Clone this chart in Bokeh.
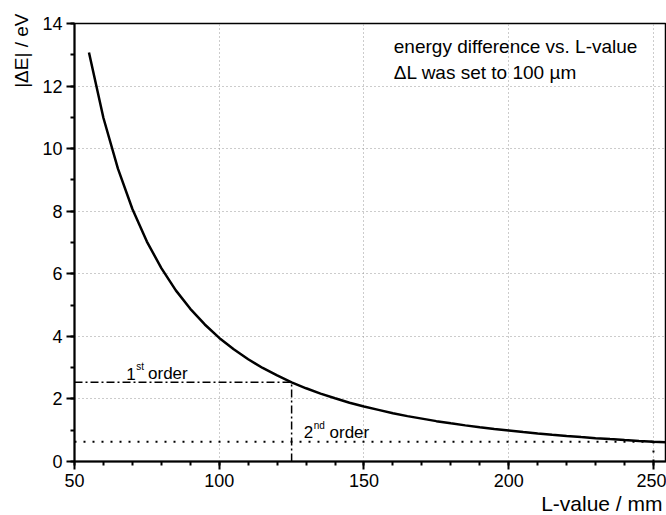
import math
from bokeh.plotting import figure
from bokeh.models import FixedTicker, Label, Title
from bokeh.embed import file_html
from bokeh.resources import INLINE

# ---- data ----
L_values = [55, 60, 65, 70, 75, 80, 85, 90, 95, 100, 105, 110, 115, 120, 125,
            130, 135, 140, 145, 150, 155, 160, 165, 170, 175, 180, 185, 190,
            195, 200, 205, 210, 215, 220, 225, 230, 235, 240, 245, 250, 255]
dE_values = [13.07, 10.98, 9.36, 8.07, 7.03, 6.18, 5.47, 4.88, 4.38, 3.95,
             3.59, 3.27, 2.99, 2.75, 2.53, 2.34, 2.17, 2.02, 1.88, 1.76,
             1.65, 1.54, 1.45, 1.37, 1.29, 1.22, 1.155, 1.095, 1.04, 0.99,
             0.94, 0.897, 0.855, 0.817, 0.781, 0.747, 0.716, 0.686, 0.659,
             0.633, 0.608]

first_order_L = 125
first_order_dE = 2.53
second_order_L = 250
second_order_dE = 0.63

x_major = [50, 100, 150, 200, 250]
x_minor = [v for v in range(50, 260, 10)]
y_major = [0, 2, 4, 6, 8, 10, 12, 14]
y_minor = list(range(0, 15))

FONT = "Liberation Sans"

p = figure(width=666, height=515, output_backend="svg", toolbar_location=None,
           x_range=(50, 254.5), y_range=(0, 14),
           min_border_left=73, min_border_right=0, min_border_top=23,
           min_border_bottom=54)
p.background_fill_color = "white"
p.border_fill_color = "white"
p.outline_line_color = "black"
p.outline_line_width = 1.5

for ax, maj, mnr in ((p.xaxis[0], x_major, x_minor), (p.yaxis[0], y_major, y_minor)):
    ax.ticker = FixedTicker(ticks=maj, minor_ticks=mnr)
    ax.axis_line_width = 2
    ax.axis_line_color = "black"
    ax.major_tick_line_width = 2
    ax.minor_tick_line_width = 2
    ax.major_tick_out = 8
    ax.major_tick_in = 0
    ax.minor_tick_out = 4
    ax.minor_tick_in = 0
    ax.major_label_text_font = FONT
    ax.major_label_text_font_size = "18px"
    ax.major_label_text_color = "black"
    ax.major_label_standoff = 4

for g in (p.xgrid[0], p.ygrid[0]):
    g.grid_line_color = "#999999"
    g.grid_line_dash = "1 3"
    g.grid_line_width = 1
p.xgrid[0].ticker = FixedTicker(ticks=x_major)
p.ygrid[0].ticker = FixedTicker(ticks=y_major)

# marker lines
p.line([50, first_order_L], [first_order_dE, first_order_dE], line_color="black",
       line_width=1.5, line_dash="8 3 2 3")
p.line([first_order_L, first_order_L], [0, first_order_dE], line_color="black",
       line_width=1.5, line_dash="8 3 2 3")
p.line([50, second_order_L], [second_order_dE, second_order_dE], line_color="black",
       line_width=2, line_dash="2 7")
p.line([second_order_L, second_order_L], [0, second_order_dE], line_color="black",
       line_width=2, line_dash="2 7")

# curve
p.line(L_values, dE_values, line_color="black", line_width=2.5)

def lab(x, y, text, size, **kw):
    l = Label(x=x, y=y, text=text, text_font=FONT, text_font_size=size,
              text_color="black", **kw)
    p.add_layout(l)

lab(160.3, 13.26, "energy difference vs. L-value", "19px", text_baseline="alphabetic")
lab(160.3, 12.44, "\u0394L was set to 100 \u00b5m", "19px", text_baseline="alphabetic")

lab(67.9, 2.81, "1", "17px", text_baseline="alphabetic")
lab(67.9, 2.81, "st", "10px", text_baseline="alphabetic", x_offset=10, y_offset=7)
lab(75.4, 2.81, "order", "17px", text_baseline="alphabetic")

lab(129.2, 0.94, "2", "17px", text_baseline="alphabetic")
lab(129.2, 0.94, "nd", "10px", text_baseline="alphabetic", x_offset=10, y_offset=7)
lab(138.1, 0.94, "order", "17px", text_baseline="alphabetic")

# axis titles (as side-panel titles so they are not clipped by the frame)
xt = Title(text="L-value / mm", align="right", text_font=FONT,
           text_font_size="21px", text_font_style="normal", text_color="black",
           standoff=0, offset=4)
p.add_layout(xt, "below")
yt = Title(text="|\u0394E| / eV", align="right", text_font=FONT,
           text_font_size="19px", text_font_style="normal", text_color="black",
           standoff=16, offset=-10)
p.add_layout(yt, "left")

open("out.html", "w").write(file_html(p, INLINE))
